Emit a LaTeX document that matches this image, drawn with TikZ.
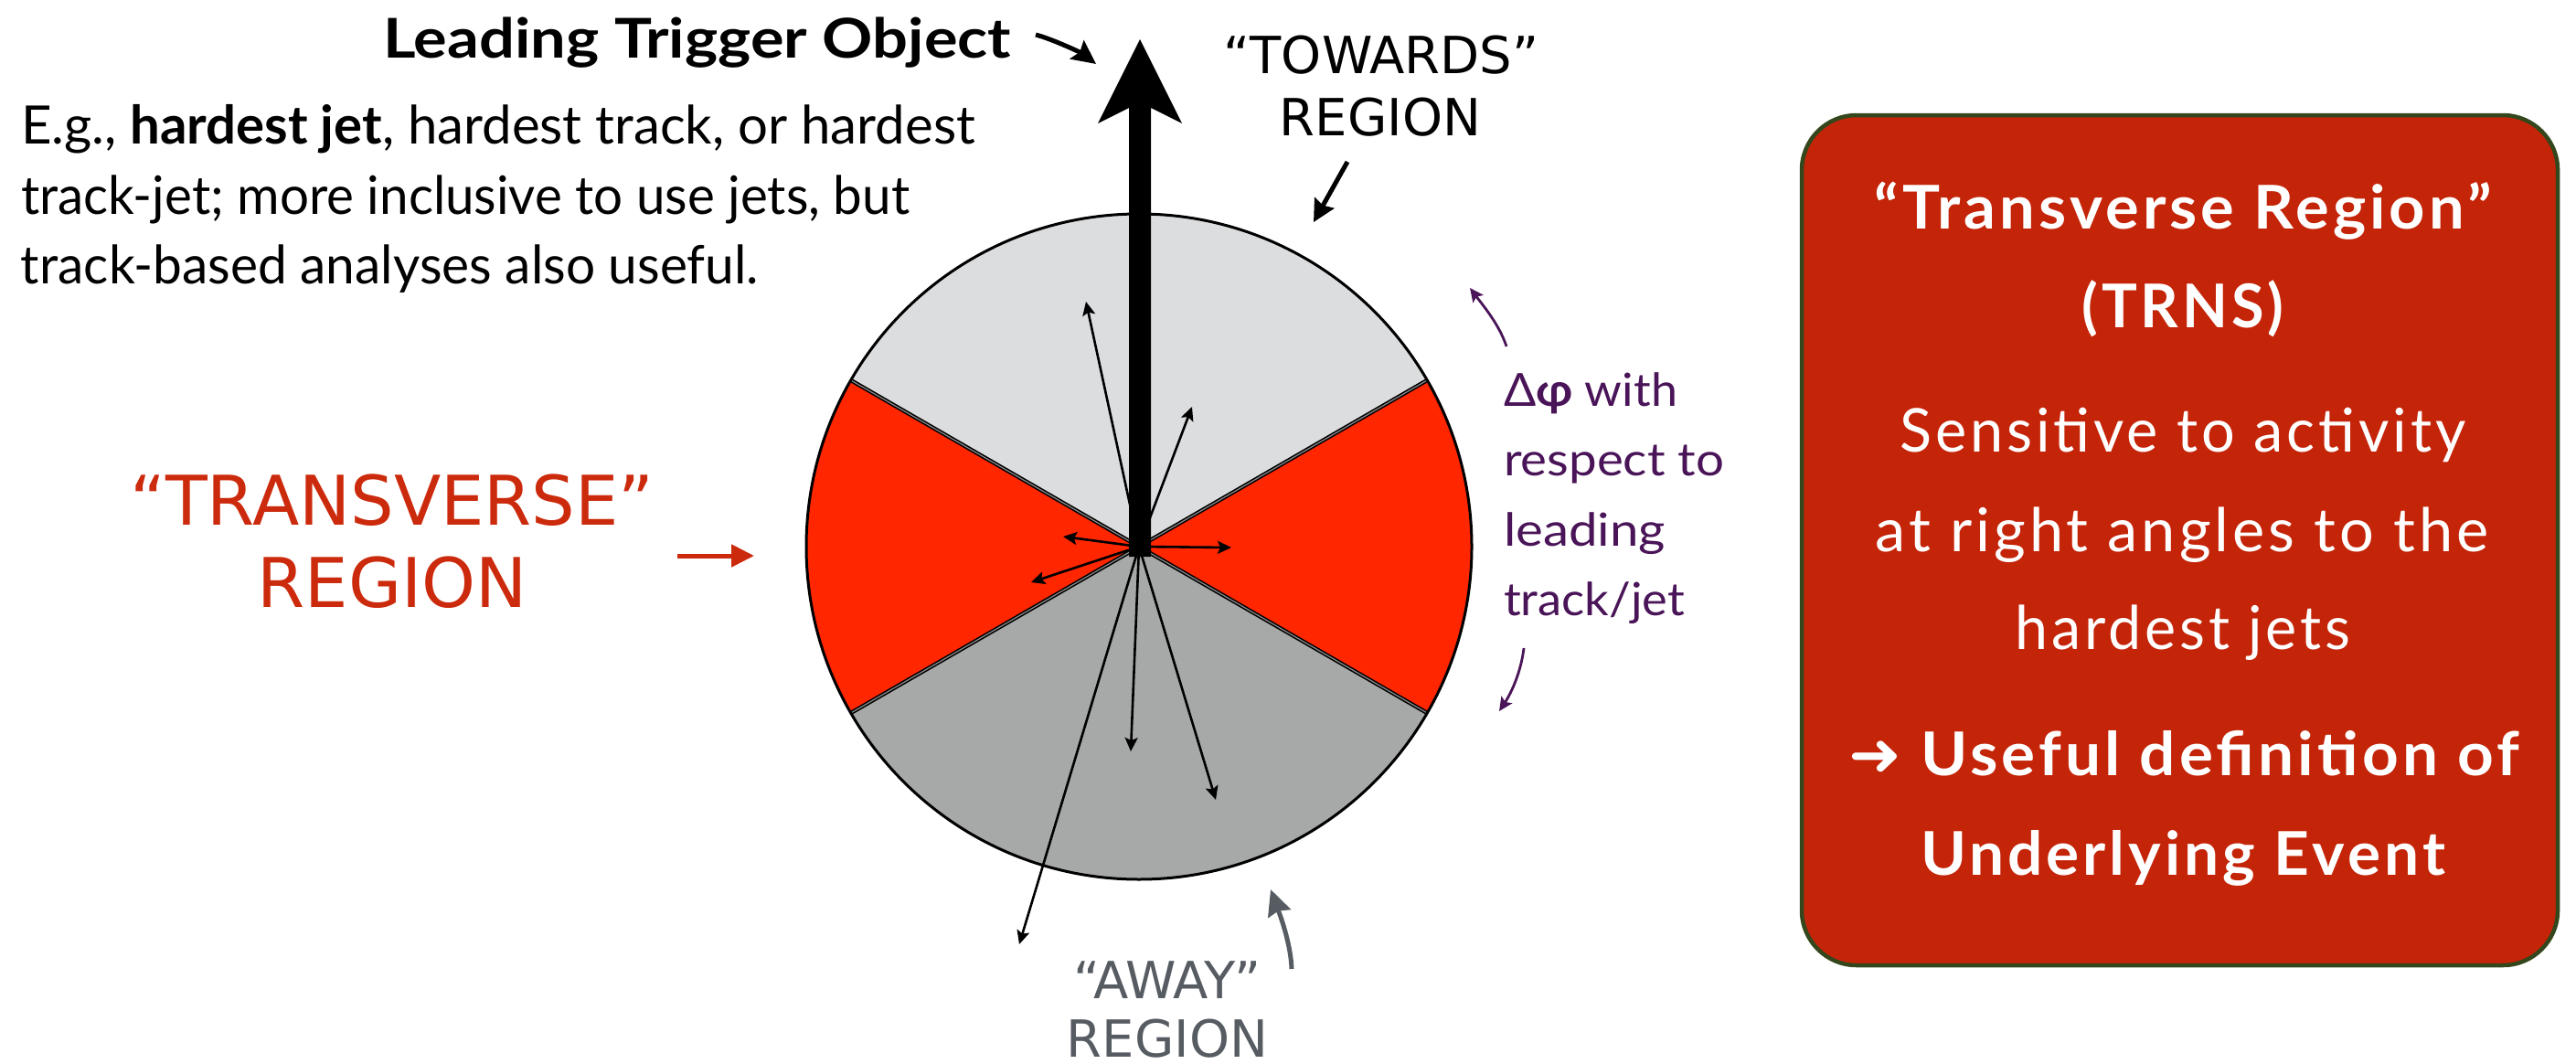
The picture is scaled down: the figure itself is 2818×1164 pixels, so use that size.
\documentclass[tikz,border=0pt]{standalone}
\usepackage{fontspec}
\usepackage{graphicx}
\usetikzlibrary{arrows.meta}
\setmainfont{Lato}
\newfontfamily\verafont{DejaVu Sans}
\newfontfamily\trackfont[LetterSpace=6]{Lato}

\definecolor{towardsgray}{HTML}{DCDDDF}
\definecolor{awaygray}{HTML}{A6A9A8}
\definecolor{trnsred}{HTML}{FF2600}
\definecolor{labelred}{HTML}{CC2A0C}
\definecolor{boxred}{HTML}{C42408}
\definecolor{boxrim}{HTML}{34471C}
\definecolor{phipurple}{HTML}{4A1458}
\definecolor{awaytext}{HTML}{575C63}

% stretch a line of text horizontally to a given width (in pt)
\newcommand\fitw[2]{\resizebox{#1pt}{\height}{#2}}

\begin{document}
\begin{tikzpicture}[x=1pt,y=-1pt,
  txt/.style={inner sep=0pt, outer sep=0pt},
  track/.style={line width=2.6pt, -{Stealth[length=15pt,width=14pt,inset=3pt]}},
  sectorline/.style={draw=black, line width=1.6pt, double=black!45, double distance=1.2pt},
  pointer/.style={line width=5pt, -{Stealth[length=26pt,width=25pt,inset=4pt]}},
  phiarrow/.style={phipurple, line width=2.8pt, -{Stealth[length=15pt,width=14pt,inset=3pt]}},
]
\useasboundingbox (0,0) rectangle (2818,1164);

% centre of the azimuthal disc and sector boundary end points
\coordinate (c) at (1246,598);
\coordinate (ul) at (930.8,416);
\coordinate (ur) at (1561.2,416);
\coordinate (ll) at (930.8,780);
\coordinate (lr) at (1561.2,780);

% sectors
\fill[awaygray] (c) circle[radius=364pt];
\begin{scope}
  \clip (c) circle[radius=364pt];
  \fill[towardsgray] (c) -- (301,52) -- (2191,52) -- cycle;
  \fill[trnsred] (c) -- (301,52) -- (301,1144) -- cycle;
  \fill[trnsred] (c) -- (2191,52) -- (2191,1144) -- cycle;
\end{scope}
\draw[sectorline] (ul) -- (lr);
\draw[sectorline] (ur) -- (ll);
\draw[line width=3pt] (c) circle[radius=364pt];

% particle tracks
\coordinate (t1) at (1188,330);
\coordinate (t2) at (1304,445);
\coordinate (t3) at (1163,587);
\coordinate (t4) at (1128,637);
\coordinate (t5) at (1347,599);
\coordinate (t6) at (1237,822);
\coordinate (t7) at (1330,875);
\coordinate (t8) at (1115,1033);
\foreach \t in {t1,t2,t3,t4,t5,t6,t7,t8}
  \draw[track] (c) -- (\t);

% leading object arrow
\coordinate (leadtip) at (1247,43);
\fill (1235,609) -- (1235,118) -- (1201,135) -- (leadtip) -- (1293,135)
      -- (1259,118) -- (1259,609) -- cycle;

% left-hand description
\node[txt, anchor=base west] (title) at (419,64)
  {\fontsize{60}{72}\selectfont\bfseries\fitw{687}{Leading Trigger Object}};
\node[txt, anchor=base west] (eg1) at (23,157)
  {\fontsize{58}{68}\selectfont\fitw{1044}{E.g., \textbf{hardest jet}, hardest track, or hardest}};
\node[txt, anchor=base west] (eg2) at (23,234)
  {\fontsize{58}{68}\selectfont\fitw{972}{track-jet; more inclusive to use jets, but}};
\node[txt, anchor=base west] (eg3) at (23,310)
  {\fontsize{58}{68}\selectfont\fitw{807}{track-based analyses also useful.}};
\coordinate (leadfrom) at (1133,38);
\coordinate (leadto) at (1199,70);
\draw[pointer] (leadfrom) .. controls (1152,43) and (1183,58) .. (leadto);

% towards label
\node[txt, anchor=base] (tw1) at (1511,81)
  {\verafont\fontsize{56}{66}\selectfont “TOWARDS”};
\node[txt, anchor=base] (tw2) at (1510,148)
  {\verafont\fontsize{56}{66}\selectfont REGION};
\coordinate (twfrom) at (1474,177);
\coordinate (twto) at (1437,243);
\draw[line width=5pt, -{Stealth[length=24pt,width=24pt,inset=3pt]}] (twfrom) -- (twto);

% transverse label
\node[txt, anchor=base, text=labelred] (tr1) at (429,574)
  {\verafont\fontsize{75}{88}\selectfont “TRANSVERSE”};
\node[txt, anchor=base, text=labelred] (tr2) at (429,664)
  {\verafont\fontsize{75}{88}\selectfont REGION};
\coordinate (trfrom) at (741,608);
\coordinate (trto) at (825,608);
\draw[labelred, line width=5pt, -{Triangle[length=25pt,width=24pt]}] (trfrom) -- (trto);

% away label
\node[txt, anchor=base, text=awaytext] (aw1) at (1277,1092)
  {\verafont\fontsize{56}{66}\selectfont “AWAY”};
\node[txt, anchor=base, text=awaytext] (aw2) at (1277,1156)
  {\verafont\fontsize{56}{66}\selectfont REGION};
\coordinate (awfrom) at (1413,1060);
\coordinate (awto) at (1390,973);
\draw[awaytext, line width=5pt, -{Stealth[length=28pt,width=26pt,inset=3pt]}]
  (awfrom) .. controls (1412,1030) and (1398,995) .. (awto);

% delta-phi annotation
\node[txt, anchor=base west, text=phipurple] (dp1) at (1645,444)
  {\fontsize{50}{60}\selectfont\fitw{190}{Δ\textbf{φ} with}};
\node[txt, anchor=base west, text=phipurple] (dp2) at (1645,520)
  {\fontsize{50}{60}\selectfont\fitw{241}{respect to}};
\node[txt, anchor=base west, text=phipurple] (dp3) at (1645,597)
  {\fontsize{50}{60}\selectfont\fitw{177}{leading}};
\node[txt, anchor=base west, text=phipurple] (dp4) at (1645,673)
  {\fontsize{50}{60}\selectfont\fitw{198}{track/jet}};
\coordinate (phiup0) at (1648,379);
\coordinate (phiup1) at (1608,315);
\coordinate (phidn0) at (1667,709);
\coordinate (phidn1) at (1640,778);
\draw[phiarrow] (phiup0) .. controls (1640,355) and (1623,335) .. (phiup1);
\draw[phiarrow] (phidn0) .. controls (1664,734) and (1654,757) .. (phidn1);

% summary box
\node[draw=boxrim, fill=boxred, line width=4.5pt, rounded corners=60pt,
      minimum width=827pt, minimum height=930pt, inner sep=0pt] (box) at (2384.5,591) {};
\begin{scope}[every node/.style={txt, anchor=base, text=white}]
  \node (bx1) at (2388,250) {\trackfont\fontsize{66}{78}\selectfont\bfseries\fitw{675}{“Transverse Region”}};
  \node (bx2) at (2388,358) {\trackfont\fontsize{66}{78}\selectfont\bfseries\fitw{221}{(TRNS)}};
  \node (bx3) at (2388,494) {\trackfont\fontsize{66}{78}\selectfont\fitw{619}{Sensitive to activity}};
  \node (bx4) at (2387,603) {\trackfont\fontsize{66}{78}\selectfont\fitw{671}{at right angles to the}};
  \node (bx5) at (2388,710) {\trackfont\fontsize{66}{78}\selectfont\fitw{367}{hardest jets}};
  \node (bx6) at (2389,848) {\trackfont\fontsize{66}{78}\selectfont\bfseries\fitw{734}{{\verafont\bfseries ➜} Useful definition of}};
  \node (bx7) at (2388,957) {\trackfont\fontsize{66}{78}\selectfont\bfseries\fitw{574}{Underlying Event}};
\end{scope}
\end{tikzpicture}
\end{document}
